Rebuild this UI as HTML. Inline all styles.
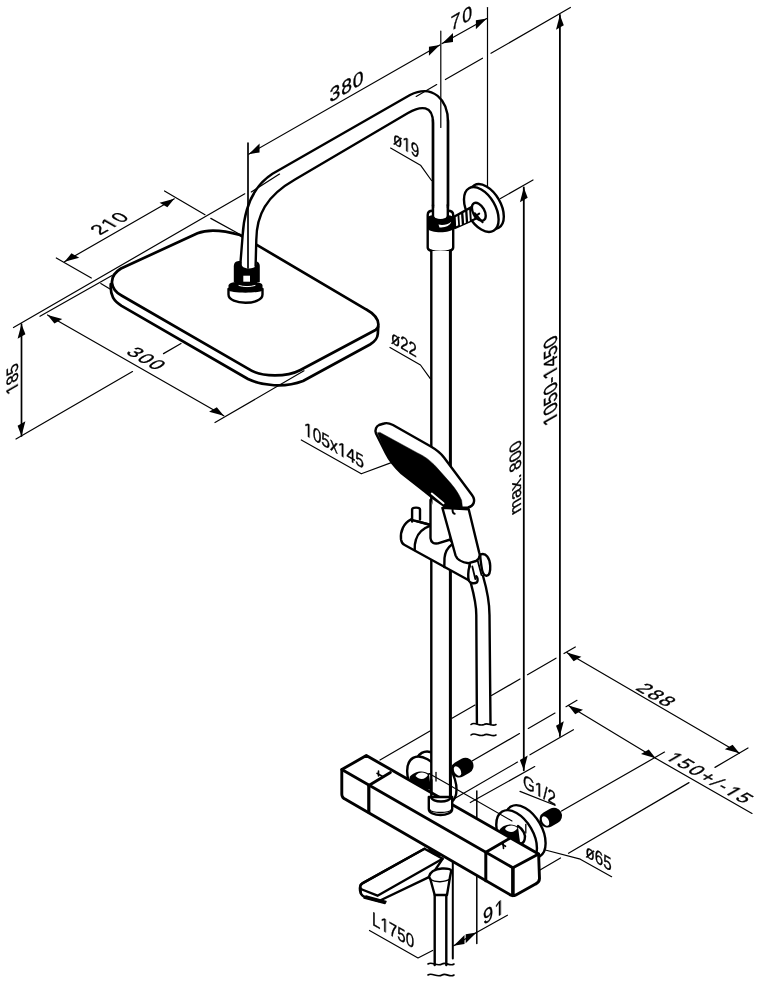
<!DOCTYPE html><html><head><meta charset="utf-8"><style>html,body{margin:0;padding:0;background:#fff;}svg{display:block;filter:grayscale(100%);}text{font-family:"Liberation Sans",sans-serif;fill:#000;}</style></head><body><svg width="760" height="984" viewBox="0 0 760 984" stroke="#000" stroke-linecap="round" stroke-linejoin="round" fill="none"><rect width="760" height="984" fill="#fff" stroke="none"/><defs><clipPath id="nutclip457"><path d="M452,765 L468,757 L474,768 L458,778 Z"/></clipPath><clipPath id="nutclip545"><path d="M540,815 L556,807 L562,818 L546,828 Z"/></clipPath></defs>
<line x1="21.50" y1="324.00" x2="21.50" y2="436.00" stroke-width="1.7"/>
<path d="M21.50,324.00 L25.40,334.25 L17.60,338.75 Z" fill="#000" stroke="none"/>
<path d="M21.50,436.00 L25.40,421.25 L17.60,425.75 Z" fill="#000" stroke="none"/>
<line x1="13.50" y1="327.50" x2="244.80" y2="193.80" stroke-width="1.2"/>
<line x1="16.00" y1="439.00" x2="132.50" y2="371.57" stroke-width="1.2"/>
<line x1="163.50" y1="353.63" x2="181.00" y2="343.50" stroke-width="1.2"/>
<line x1="64.50" y1="261.80" x2="174.30" y2="198.80" stroke-width="1.2"/>
<path d="M64.50,261.80 L79.24,257.83 L71.44,253.33 Z" fill="#000" stroke="none"/>
<path d="M174.30,198.80 L167.36,207.27 L159.56,202.77 Z" fill="#000" stroke="none"/>
<line x1="56.30" y1="258.00" x2="91.30" y2="278.00" stroke-width="1.2"/>
<line x1="100.80" y1="283.60" x2="110.00" y2="289.00" stroke-width="1.2"/>
<line x1="164.50" y1="191.00" x2="205.00" y2="214.70" stroke-width="1.2"/>
<line x1="210.80" y1="218.40" x2="239.70" y2="234.30" stroke-width="1.2"/>
<line x1="47.50" y1="315.00" x2="223.80" y2="415.80" stroke-width="1.2"/>
<path d="M47.50,315.00 L62.25,318.95 L54.45,323.45 Z" fill="#000" stroke="none"/>
<path d="M223.80,415.80 L216.85,407.35 L209.05,411.85 Z" fill="#000" stroke="none"/>
<line x1="40.00" y1="316.30" x2="112.00" y2="275.50" stroke-width="1.2"/>
<line x1="248.70" y1="154.20" x2="439.80" y2="45.00" stroke-width="1.2"/>
<path d="M248.70,154.20 L259.55,152.50 L259.55,143.50 Z" fill="#000" stroke="none"/>
<path d="M439.80,45.00 L428.95,55.70 L428.95,46.70 Z" fill="#000" stroke="none"/>
<line x1="442.10" y1="43.60" x2="486.80" y2="18.60" stroke-width="1.2"/>
<path d="M442.10,43.60 L453.01,42.00 L453.01,33.00 Z" fill="#000" stroke="none"/>
<path d="M486.80,18.60 L475.89,29.20 L475.89,20.20 Z" fill="#000" stroke="none"/>
<line x1="487.50" y1="7.50" x2="487.50" y2="186.00" stroke-width="1.2"/>
<line x1="559.90" y1="15.00" x2="559.90" y2="736.00" stroke-width="1.8"/>
<path d="M559.90,15.00 L563.80,25.25 L556.00,29.75 Z" fill="#000" stroke="none"/>
<path d="M559.90,736.00 L563.80,721.25 L556.00,725.75 Z" fill="#000" stroke="none"/>
<line x1="523.80" y1="187.50" x2="523.80" y2="770.30" stroke-width="1.8"/>
<path d="M523.80,187.50 L527.70,197.75 L519.90,202.25 Z" fill="#000" stroke="none"/>
<path d="M523.80,770.30 L527.70,755.55 L519.90,760.05 Z" fill="#000" stroke="none"/>
<line x1="500.50" y1="198.50" x2="533.00" y2="180.00" stroke-width="1.2"/>
<line x1="380.00" y1="760.00" x2="430.00" y2="731.07" stroke-width="1.2"/>
<line x1="452.00" y1="718.34" x2="475.00" y2="705.03" stroke-width="1.2"/>
<line x1="491.50" y1="695.49" x2="520.00" y2="679.00" stroke-width="1.2"/>
<line x1="527.50" y1="674.66" x2="556.00" y2="658.17" stroke-width="1.2"/>
<line x1="564.00" y1="653.54" x2="575.30" y2="647.00" stroke-width="1.2"/>
<line x1="566.70" y1="652.60" x2="739.50" y2="753.20" stroke-width="1.2"/>
<path d="M566.70,652.60 L581.40,656.64 L573.61,661.14 Z" fill="#000" stroke="none"/>
<path d="M739.50,753.20 L732.59,744.66 L724.80,749.16 Z" fill="#000" stroke="none"/>
<line x1="540.00" y1="870.00" x2="560.50" y2="857.98" stroke-width="1.2"/>
<line x1="568.50" y1="853.28" x2="689.00" y2="782.61" stroke-width="1.2"/>
<line x1="715.00" y1="767.36" x2="748.00" y2="748.00" stroke-width="1.2"/>
<line x1="472.00" y1="761.00" x2="519.50" y2="733.54" stroke-width="1.2"/>
<line x1="528.30" y1="728.45" x2="555.00" y2="713.02" stroke-width="1.2"/>
<line x1="566.00" y1="706.66" x2="577.00" y2="700.30" stroke-width="1.2"/>
<line x1="568.40" y1="705.50" x2="655.60" y2="758.30" stroke-width="1.2"/>
<path d="M568.40,705.50 L582.99,709.72 L575.20,714.22 Z" fill="#000" stroke="none"/>
<path d="M655.60,758.30 L648.80,749.58 L641.01,754.08 Z" fill="#000" stroke="none"/>
<line x1="561.50" y1="811.00" x2="664.50" y2="752.10" stroke-width="1.2"/>
<line x1="455.50" y1="798.00" x2="517.50" y2="762.08" stroke-width="1.2"/>
<line x1="530.00" y1="754.84" x2="573.40" y2="729.70" stroke-width="1.2"/>
<line x1="470.30" y1="802.50" x2="534.70" y2="766.60" stroke-width="1.2"/>
<line x1="655.60" y1="758.30" x2="752.00" y2="813.40" stroke-width="1.2"/>
<line x1="452.80" y1="827.00" x2="452.80" y2="958.50" stroke-width="2.0"/>
<line x1="476.80" y1="791.00" x2="476.80" y2="830.00" stroke-width="1.5"/>
<line x1="476.80" y1="839.80" x2="476.80" y2="853.20" stroke-width="1.5"/>
<line x1="476.80" y1="861.70" x2="476.80" y2="943.50" stroke-width="1.5"/>
<line x1="453.70" y1="945.80" x2="476.50" y2="932.60" stroke-width="1.2"/>
<path d="M453.70,945.80 L464.52,944.04 L464.52,935.04 Z" fill="#000" stroke="none"/>
<path d="M476.50,932.60 L465.68,943.36 L465.68,934.36 Z" fill="#000" stroke="none"/>
<line x1="476.50" y1="932.60" x2="507.40" y2="915.20" stroke-width="1.2"/>
<path d="M110.8,284 C110,296 114,301 121.6,305.8 L248,379 C262,386 285,388 303,381 L370,344.5 C375,341.5 377.5,338.5 377.8,334 L378.2,327 L375.5,330 L300,370.2 C288,376.5 262,378 248,368.7 L121.5,295.5 C112,290 110,287 110.8,284 Z" stroke-width="0.01" fill="#fff" stroke="none"/>
<path d="M110.8,284 C110,296 114,301 121.6,305.8 L248,379 C262,386 285,388 303,381 L370,344.5 C375,341.5 377.5,338.5 377.8,334 L378.2,327" stroke-width="2.7" fill="none" />
<path d="M121,268.5 L197.5,233.3 C207,229.5 222,230 240,235 L366,309.3 C373.5,313.5 378.5,319 378.4,324.8 C378.3,327.5 377.5,328.8 375.5,330 L300,370.2 C288,376.5 262,378 248,368.7 L121.5,295.5 C111,290 107,277 121,268.5 Z" stroke-width="2.7" fill="#fff" />
<line x1="215.00" y1="422.50" x2="304.00" y2="370.80" stroke-width="1.2"/>
<path d="M228.5,289 L228.5,294.5 C228.5,305.5 262.5,305.5 262.5,294.5 L262.5,289" stroke-width="2.4" fill="#fff" />
<path d="M228.5,290 L228.5,285.5 C228.5,279.5 262.5,279.5 262.5,285.5 L262.5,290 C262.5,293.5 228.5,293.5 228.5,290 Z" fill="#000" stroke="none"/>
<path d="M233.8,282 L233.8,266.5 C233.8,262 236.5,261 240,261 L253,261 C257,261 259.8,262 259.8,266.5 L259.8,282 Z" fill="#000" stroke="none"/>
<rect x="243.3" y="275.7" width="6.7" height="6" fill="#fff" stroke="none"/>
<path d="M239,285.5 C244,287 250,287 255,285.5" stroke="#fff" stroke-width="1.0" fill="none"/>
<path d="M241.5,258 L241.5,264 C241.5,270 256.5,270 256.5,264 L256.5,258 Z" fill="#fff" stroke="none"/>
<path d="M248,262 L249.3,236 C250.5,210 259,190 283,176.5 L409,103.5 C427,94 440.5,103 440.5,122 L440.5,212" stroke-width="14.5" fill="none" stroke="#fff" stroke-linecap="butt"/>
<path d="M240.2,266 L242.6,236 C244,210 252,187 272.5,173.8 L410,95 C433,83.5 448,100 448,122 L448,212" stroke-width="2.4" fill="none" />
<path d="M255.6,266 L256.3,240 C256.5,215 266,196 295,179.5 L408,113 C421,105.5 433,105 433,123 L433,212" stroke-width="2.4" fill="none" />
<line x1="248.00" y1="143.00" x2="248.00" y2="268.00" stroke-width="1.7"/>
<line x1="251.30" y1="191.90" x2="279.50" y2="174.10" stroke-width="1.2"/>
<line x1="440.80" y1="31.00" x2="440.80" y2="127.50" stroke-width="1.2"/>
<line x1="416.20" y1="96.40" x2="436.70" y2="84.58" stroke-width="1.2"/>
<line x1="445.40" y1="79.57" x2="482.50" y2="58.18" stroke-width="1.2"/>
<line x1="491.00" y1="53.28" x2="570.40" y2="7.50" stroke-width="1.2"/>
<circle r="20" fill="#fff" stroke-width="2.4" vector-effect="non-scaling-stroke" transform="matrix(0.866,0.5,0,1,486.50,206.50)" />
<circle r="20" fill="#fff" stroke-width="2.4" vector-effect="non-scaling-stroke" transform="matrix(0.866,0.5,0,1,481.30,209.50)" />
<path d="M454.5,216.5 L476,204.5 L481,216 L474,219.5 L455,228 Z" stroke-width="2.4" fill="#fff" />
<path d="M457.5,214.8 L471,207.3 L471.8,221.2 L458.3,226.9 Z" fill="#000" stroke="none"/>
<path d="M459.30,215.29 L461.10,214.29 L461.80,224.67 L460.00,225.47 Z" fill="#fff" stroke="none"/>
<path d="M463.40,213.03 L465.20,212.03 L465.90,222.82 L464.10,223.62 Z" fill="#fff" stroke="none"/>
<path d="M467.40,210.83 L469.20,209.83 L469.90,221.02 L468.10,221.82 Z" fill="#fff" stroke="none"/>
<circle r="8" fill="#fff" stroke-width="2.4" vector-effect="non-scaling-stroke" transform="matrix(0.866,0.5,0,1,478.80,211.80)" />
<path d="M474.8,213.2 L482.6,222.3" stroke-width="2.0" fill="none" />
<path d="M474.6,216.8 L479.2,213.6" stroke-width="2.0" fill="none" />
<circle r="23.5" fill="#fff" stroke-width="2.4" vector-effect="non-scaling-stroke" transform="matrix(0.866,0.5,0,1,436.16,777.80)" />
<circle r="23.5" fill="#fff" stroke-width="2.4" vector-effect="non-scaling-stroke" transform="matrix(0.866,0.5,0,1,427.50,782.80)" />
<circle r="23.5" fill="#fff" stroke-width="2.4" vector-effect="non-scaling-stroke" transform="matrix(0.866,0.5,0,1,525.26,831.50)" />
<circle r="23.5" fill="#fff" stroke-width="2.4" vector-effect="non-scaling-stroke" transform="matrix(0.866,0.5,0,1,516.60,836.50)" />
<path d="M409.5,777 C414,771 424,769.5 429,774 L431,790 L412,786 Z" fill="#000" stroke="none"/>
<path d="M415.5,776 C418,771.5 425,771.5 428,775 C426,779 420,781 415.5,776 Z" fill="#fff" stroke="none"/>
<path d="M499.5,830 C503,824 513,822.5 518,827 L520,842 L501,838 Z" fill="#000" stroke="none"/>
<path d="M505,829 C507.5,824.5 514.5,824.5 517.5,828 C515.5,832 509.5,834 505,829 Z" fill="#fff" stroke="none"/>
<path d="M518,826 C523,829 526,835 524.7,839.2 C524,842 523,843 521.6,843.4" stroke-width="2.4" fill="none" />
<line x1="459" y1="769.5" x2="465.5" y2="765.8" stroke-width="16" stroke-linecap="round"/>
<circle r="4.3" fill="#fff" stroke-width="0.01" vector-effect="non-scaling-stroke" transform="matrix(0.866,0.5,0,1,457.50,771.00)" stroke="none"/>
<line x1="547.5" y1="819.5" x2="554" y2="815.8" stroke-width="16" stroke-linecap="round"/>
<circle r="4.3" fill="#fff" stroke-width="0.01" vector-effect="non-scaling-stroke" transform="matrix(0.866,0.5,0,1,545.50,821.00)" stroke="none"/>
<circle r="6.2" fill="none" stroke="#fff" stroke-width="0.9" vector-effect="non-scaling-stroke" transform="matrix(0.866,0.5,0,1,461.83,768.50)" clip-path="url(#nutclip457)"/>
<circle r="6.2" fill="none" stroke="#fff" stroke-width="0.9" vector-effect="non-scaling-stroke" transform="matrix(0.866,0.5,0,1,464.86,766.75)" clip-path="url(#nutclip457)"/>
<circle r="6.2" fill="none" stroke="#fff" stroke-width="0.9" vector-effect="non-scaling-stroke" transform="matrix(0.866,0.5,0,1,549.83,818.50)" clip-path="url(#nutclip545)"/>
<circle r="6.2" fill="none" stroke="#fff" stroke-width="0.9" vector-effect="non-scaling-stroke" transform="matrix(0.866,0.5,0,1,552.86,816.75)" clip-path="url(#nutclip545)"/>
<line x1="429.00" y1="773.50" x2="512.00" y2="821.00" stroke-width="1.1"/>
<line x1="436.00" y1="772.50" x2="436.00" y2="781.00" stroke-width="1.3"/>
<line x1="525.80" y1="824.50" x2="525.80" y2="833.00" stroke-width="1.3"/>
<path d="M448,120 L448,206" stroke-width="2.4" fill="none" />
<path d="M433,120 L433,206" stroke-width="2.4" fill="none" />
<path d="M427.7,247.5 L427.7,215 C427.7,211.5 429.5,210.8 432.7,210.8 L447.8,210.8 C451,210.8 453.2,211.5 453.2,215 L453.2,247.5 C453.2,253.5 427.7,253.5 427.7,247.5 Z" stroke-width="2.4" fill="#fff" />
<path d="M427.7,217 C430,213.5 451,213.5 453.2,217 L453.2,228.5 C451.5,233.5 429.5,233.5 427.7,228.5 Z" fill="#000" stroke="none"/>
<path d="M433.8,208 L433.8,216 C434.5,220.3 446.5,220.3 447,216 L447,208 Z" fill="#fff" stroke="none"/>
<path d="M433,205 L433,216.5 C434,221.5 447,221.5 447.8,216.5 L447.8,205" stroke-width="2.4" fill="none" />
<path d="M438.5,224.6 C443,225.6 448,224.6 451.2,221.8 C450.2,225.8 445,228 439.5,227.4 Z" fill="#fff" stroke="none"/>
<rect x="431.3" y="251" width="19.4" height="547" fill="#fff" stroke="none"/>
<path d="M431.3,251 L431.3,798" stroke-width="2.4" fill="none" />
<path d="M450.4,251 L450.4,798" stroke-width="3.0" fill="none" />
<path d="M410.8,519.7 C404,523 400,531 401,539.5 C401.5,542 402.5,544 404.2,544.7 L468.7,580.3 L470,560 L450,540 L430.5,525 Z" stroke-width="2.4" fill="#fff" />
<path d="M430.5,525.7 C424,528 418,533 416,539.5 C414.8,543 414.5,547 414.7,550" stroke-width="2.4" fill="none" />
<path d="M412.1,521.5 L412.1,509.5 C412.1,507 420,507 420,509.5 L420,519.5" stroke-width="2.4" fill="#fff" />
<path d="M410.8,519.7 L429.2,524.3" stroke-width="2.4" fill="none" />
<path d="M430.5,500 L430.5,538.2 C431,543 434,544 438,543.4 L450.3,539.5" stroke-width="2.4" fill="#fff" />
<path d="M451.6,544.7 C447,548 445,553 444.5,558 L444.3,567.1" stroke-width="2.4" fill="none" />
<path d="M442.4,507.9 L455.5,555.3 C457,559.5 460,562 468.7,563.2 L476,561 C479,559 480.5,556 479.2,552.6 L468.7,509.2 Z" stroke-width="2.4" fill="#fff" />
<path d="M480.5,554.5 C486,552.5 489.8,558 490.2,565.7 C490.5,571 489.2,575.5 486.5,575.8 C483.8,576 482,571 481.4,566 C480.8,561 479.8,557 480.5,554.5 Z" stroke-width="2.4" fill="#fff" />
<path d="M469.5,566 C468,571 467.8,578 469,581 C470.5,583.8 475,583.8 477,582.2 C478.2,580.5 477.6,577.5 476.2,576.2" stroke-width="2.4" fill="#fff" />
<line x1="472.30" y1="566.50" x2="475.30" y2="579.00" stroke-width="1.8"/>
<line x1="477.80" y1="561.00" x2="481.50" y2="575.00" stroke-width="1.8"/>
<path d="M384,423.5 C387,422.5 390,423.5 393,425 L430,446 C437,450 440,452 444,457.5 L472,495 C476,500.5 474,506 468,507.5 L458,508 C451,508 447,507.5 444,505.8 L436,500.3 C430,496 426,492.5 422,489.2 L401.6,473.4 C394,466 389,459.5 385.8,452.9 L376,433.5 C374.5,430 376.5,426 379,425 Z" stroke-width="2.4" fill="#fff" />
<path d="M377.5,433 L385.8,452.9 C389,459.5 394,466 401.6,473.4 L422,489.2 C428,494 434,499 444,505.8 C448,508 455,508.5 462.5,508 L461.6,500.3 C458,492 454,487 449,481.3 L436.3,467 C430,460 424,456 417.4,452.9 L380,432.5 Z" stroke-width="0.5" fill="#000" stroke="#000"/>
<path d="M431.8,493.6 L443.5,503.3" stroke-width="2.0" fill="none" stroke="#fff"/>
<path d="M443.7,506.8 L467.4,509.2" stroke-width="1.8" fill="none" />
<path d="M452.6,508.6 C452.4,511 452.8,513.5 454.6,513.8" stroke-width="2.0" fill="none" />
<path d="M470.8,583 C473.5,593 476.3,603 476.3,615 L476.9,723" stroke-width="2.4" fill="none" />
<path d="M483,576 C486.5,588 489.5,601 489.5,615 L490.5,724" stroke-width="2.4" fill="none" />
<path d="M471,724.5 C475,721 479,727 484,724.5 C488,722 492,727 496,724.5" stroke-width="1.6" fill="none" />
<path d="M471,735 C475,731.5 479,737.5 484,735 C488,732.5 492,737.5 496,735" stroke-width="1.6" fill="none" />
<path d="M341.8,769.6 L366.3,755.5 L538.6,854 L539.5,878.6 C539.5,881.6 537.5,883.1 535.5,884.1 L515.9,894.9 C513.9,895.9 512.9,895.9 510.9,895.1999999999999 L345.8,799.4000000000001 C342.8,798.2 341.8,796.2 341.8,794.2 Z" stroke-width="2.9" fill="#fff" />
<path d="M341.8,769.6 L512.9,867.8 L538.6,854" stroke-width="2.9" fill="none" />
<path d="M512.9,867.8 L512.9,895.4" stroke-width="3.6" fill="none" />
<line x1="368.80" y1="785.40" x2="368.80" y2="812.00" stroke-width="3.2"/>
<line x1="368.80" y1="785.40" x2="390.40" y2="772.60" stroke-width="2.9"/>
<line x1="485.80" y1="852.20" x2="485.80" y2="880.80" stroke-width="3.0"/>
<line x1="485.80" y1="852.20" x2="509.50" y2="838.40" stroke-width="2.9"/>
<line x1="377.00" y1="773.30" x2="383.00" y2="776.80" stroke-width="1.6"/>
<line x1="378.50" y1="771.00" x2="378.50" y2="776.00" stroke-width="1.6"/>
<line x1="502.50" y1="844.50" x2="505.50" y2="846.30" stroke-width="1.6"/>
<line x1="503.00" y1="842.50" x2="503.50" y2="848.50" stroke-width="1.6"/>
<path d="M428.8,797 L428.8,809 C428.8,817 452.2,817 452.2,809 L452.2,797 Z" stroke-width="2.4" fill="#fff" />
<path d="M431.3,797 C431.3,803 450.7,803 450.7,797" stroke-width="2.4" fill="none" />
<path d="M429.5,809.5 C432,813.5 449,813.5 451.5,809.5" stroke-width="1.4" fill="none" />
<path d="M431.3,780 L431.3,797 M450.7,780 L450.7,797" stroke-width="2.4" fill="none" />
<line x1="429.00" y1="773.50" x2="452.00" y2="786.60" stroke-width="1.1"/>
<line x1="436.00" y1="772.50" x2="436.00" y2="781.00" stroke-width="1.3"/>
<path d="M424.5,848.7 L362.3,883.4 C359,885.5 359.5,891 361,893.6 C362,896 364,896.8 366,897.4 L379,901 L431,876.2 L442.6,858.8 Z" stroke-width="2.4" fill="#fff" />
<path d="M424.5,848.7 L362.3,883.4 C359.5,885 359.5,888 362,889.5 L377.5,895.7 L442.6,858.8" stroke-width="2.4" fill="none" />
<path d="M360.5,889 L360.9,893.6" stroke-width="2.4" fill="none" />
<path d="M364,898 L385,903.5 L386,901.5 L366,896 Z" fill="#000" stroke="#000" stroke-width="1.5"/>
<path d="M428,849 C431,854 435,856 440,856.5 L441,853 C436,853 432,851 430,848 Z" fill="#000" stroke="none"/>
<path d="M428.9,877 C430,871 436,869 442,868.5 C447,868.3 450.5,869 451.3,870.5 L449.9,877.6 L447,895 L434.7,895 L430.3,879 Z" stroke-width="2.4" fill="#fff" />
<path d="M430.5,879.5 C435,882.5 445,882.5 449.8,879" stroke-width="1.5" fill="none" />
<path d="M434.7,895 L434.7,965 M446.3,895 L446.3,965" stroke-width="2.4" fill="none" />
<path d="M428,964 C432,961 437,967 442,964 C446,961.5 450,967 454,964" stroke-width="1.6" fill="none" />
<path d="M428,975 C432,972 437,978 442,975 C446,972.5 450,978 454,975" stroke-width="1.6" fill="none" />
<path d="M390.60,148.10 L420.50,165.20 L431.50,180.50" stroke-width="1.2" fill="none"/>
<path d="M390.00,347.50 L420.50,365.00 L430.30,378.70" stroke-width="1.2" fill="none"/>
<path d="M301.30,440.00 L361.30,473.80 L392.00,462.40" stroke-width="1.2" fill="none"/>
<path d="M520.00,791.40 L555.00,805.30" stroke-width="1.2" fill="none"/>
<path d="M545.30,850.00 L580.30,859.20 L611.60,876.70" stroke-width="1.2" fill="none"/>
<path d="M369.50,930.50 L418.00,958.00 L432.60,950.50" stroke-width="1.2" fill="none"/>
<text stroke="#000" stroke-width="0.35" transform="matrix(0.9699,-0.5600,0.0000,1.0000,329.50,103.00)" font-size="20" x="0.00 12.02 24.05" y="0">380</text>
<text stroke="#000" stroke-width="0.35" transform="matrix(0.8660,-0.5000,0.0000,1.0000,450.50,31.20)" font-size="20.5" x="0.00 13.60" y="0">70</text>
<text stroke="#000" stroke-width="0.35" transform="matrix(0.8660,-0.5000,0.8660,0.5000,100.00,235.50)" font-size="19.5" x="0.00 24.09" y="0">20</text>
<path d="M696,0 L515,0 L515,-1237 L197,-1010 L197,-1180 L530,-1409 L696,-1409 Z" fill="#000" stroke="#000" stroke-width="0.35" vector-effect="non-scaling-stroke" transform="matrix(0.8660,-0.5000,0.8660,0.5000,100.00,235.50) translate(12.04,0) scale(0.00952)"/>
<text stroke="#000" stroke-width="0.35" transform="matrix(0.0000,-0.9000,0.8660,-0.5000,17.80,390.00)" font-size="19" x="10.57 21.13" y="0">85</text>
<path d="M696,0 L515,0 L515,-1237 L197,-1010 L197,-1180 L530,-1409 L696,-1409 Z" fill="#000" stroke="#000" stroke-width="0.35" vector-effect="non-scaling-stroke" transform="matrix(0.0000,-0.9000,0.8660,-0.5000,17.80,390.00) translate(0.00,0) scale(0.00928)"/>
<text stroke="#000" stroke-width="0.35" transform="matrix(0.8660,0.5000,-0.8660,0.5000,125.00,353.00)" font-size="19.5" x="0.00 12.34 24.69" y="0">300</text>
<text stroke="#000" stroke-width="0.35" transform="matrix(0.8054,0.4650,0.0000,1.0000,393.00,143.40)" font-size="19" x="0.00 22.17" y="0">&#248;9</text>
<path d="M696,0 L515,0 L515,-1237 L197,-1010 L197,-1180 L530,-1409 L696,-1409 Z" fill="#000" stroke="#000" stroke-width="0.35" vector-effect="non-scaling-stroke" transform="matrix(0.8054,0.4650,0.0000,1.0000,393.00,143.40) translate(11.61,0) scale(0.00928)"/>
<text stroke="#000" stroke-width="0.35" transform="matrix(0.7881,0.4550,0.0000,1.0000,391.00,342.80)" font-size="19" x="0.00 11.61 22.17" y="0">&#248;22</text>
<text stroke="#000" stroke-width="0.35" transform="matrix(0.8227,0.4750,0.0000,1.0000,304.00,434.50)" font-size="19" x="10.57 21.13 31.70 51.77 62.33" y="0">05x45</text>
<path d="M696,0 L515,0 L515,-1237 L197,-1010 L197,-1180 L530,-1409 L696,-1409 Z" fill="#000" stroke="#000" stroke-width="0.35" vector-effect="non-scaling-stroke" transform="matrix(0.8227,0.4750,0.0000,1.0000,304.00,434.50) translate(0.00,0) scale(0.00928)"/>
<path d="M696,0 L515,0 L515,-1237 L197,-1010 L197,-1180 L530,-1409 L696,-1409 Z" fill="#000" stroke="#000" stroke-width="0.35" vector-effect="non-scaling-stroke" transform="matrix(0.8227,0.4750,0.0000,1.0000,304.00,434.50) translate(41.20,0) scale(0.00928)"/>
<text stroke="#000" stroke-width="0.35" transform="matrix(0.0000,-0.9300,0.8660,-0.5000,520.60,511.00)" font-size="19" x="0.00 15.83 26.39 35.89 41.17 46.45 57.02 67.59" y="0">max. 800</text>
<text stroke="#000" stroke-width="0.35" transform="matrix(0.0000,-0.9600,1.0000,-0.5770,556.80,420.50)" font-size="19" x="10.57 21.13 31.70 42.27 59.16 69.73 80.30" y="0">050-450</text>
<path d="M696,0 L515,0 L515,-1237 L197,-1010 L197,-1180 L530,-1409 L696,-1409 Z" fill="#000" stroke="#000" stroke-width="0.35" vector-effect="non-scaling-stroke" transform="matrix(0.0000,-0.9600,1.0000,-0.5770,556.80,420.50) translate(0.00,0) scale(0.00928)"/>
<path d="M696,0 L515,0 L515,-1237 L197,-1010 L197,-1180 L530,-1409 L696,-1409 Z" fill="#000" stroke="#000" stroke-width="0.35" vector-effect="non-scaling-stroke" transform="matrix(0.0000,-0.9600,1.0000,-0.5770,556.80,420.50) translate(48.59,0) scale(0.00928)"/>
<text stroke="#000" stroke-width="0.35" transform="matrix(0.8660,0.5000,-0.8660,0.5000,634.50,689.00)" font-size="19.5" x="0.00 12.84 25.69" y="0">288</text>
<text stroke="#000" stroke-width="0.35" transform="matrix(0.8660,0.5000,-0.8660,0.5000,664.10,758.20)" font-size="19.5" x="12.84 25.69 38.53 51.92 59.34 80.68" y="0">50+/-5</text>
<path d="M696,0 L515,0 L515,-1237 L197,-1010 L197,-1180 L530,-1409 L696,-1409 Z" fill="#000" stroke="#000" stroke-width="0.35" vector-effect="non-scaling-stroke" transform="matrix(0.8660,0.5000,-0.8660,0.5000,664.10,758.20) translate(0.00,0) scale(0.00952)"/>
<path d="M696,0 L515,0 L515,-1237 L197,-1010 L197,-1180 L530,-1409 L696,-1409 Z" fill="#000" stroke="#000" stroke-width="0.35" vector-effect="non-scaling-stroke" transform="matrix(0.8660,0.5000,-0.8660,0.5000,664.10,758.20) translate(67.83,0) scale(0.00952)"/>
<text stroke="#000" stroke-width="0.35" transform="matrix(0.7967,0.4600,0.0000,1.0000,523.00,787.00)" font-size="19" x="0.00 25.35 30.62" y="0">G/2</text>
<path d="M696,0 L515,0 L515,-1237 L197,-1010 L197,-1180 L530,-1409 L696,-1409 Z" fill="#000" stroke="#000" stroke-width="0.35" vector-effect="non-scaling-stroke" transform="matrix(0.7967,0.4600,0.0000,1.0000,523.00,787.00) translate(14.78,0) scale(0.00928)"/>
<text stroke="#000" stroke-width="0.35" transform="matrix(0.7967,0.4600,0.0000,1.0000,585.50,856.50)" font-size="19" x="0.00 11.61 22.17" y="0">&#248;65</text>
<text stroke="#000" stroke-width="0.35" transform="matrix(0.8660,-0.5000,0.0000,1.0000,483.00,925.00)" font-size="21" x="0.00" y="0">9</text>
<path d="M696,0 L515,0 L515,-1237 L197,-1010 L197,-1180 L530,-1409 L696,-1409 Z" fill="#000" stroke="#000" stroke-width="0.35" vector-effect="non-scaling-stroke" transform="matrix(0.8660,-0.5000,0.0000,1.0000,483.00,925.00) translate(13.18,0) scale(0.01025)"/>
<text stroke="#000" stroke-width="0.35" transform="matrix(0.7967,0.4600,0.0000,1.0000,372.00,924.50)" font-size="19" x="0.00 21.13 31.70 42.27" y="0">L750</text>
<path d="M696,0 L515,0 L515,-1237 L197,-1010 L197,-1180 L530,-1409 L696,-1409 Z" fill="#000" stroke="#000" stroke-width="0.35" vector-effect="non-scaling-stroke" transform="matrix(0.7967,0.4600,0.0000,1.0000,372.00,924.50) translate(10.57,0) scale(0.00928)"/></svg></body></html>
